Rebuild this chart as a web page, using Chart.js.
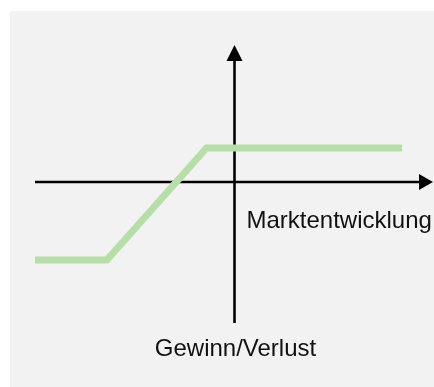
<!DOCTYPE html>
<html>
<head>
<meta charset="utf-8">
<script src="https://cdn.jsdelivr.net/npm/chart.js@4.4.1/dist/chart.umd.min.js"></script>
<style>
  html, body { margin: 0; padding: 0; background: #ffffff; }
  #wrap { position: relative; width: 434px; height: 387px; overflow: hidden; }
  #panel { position: absolute; left: 10px; top: 11px; width: 424px; height: 376px; background: #f2f2f2; }
  #payoff { position: absolute; left: 0; top: 0; }
</style>
</head>
<body>
<div id="wrap">
  <div id="panel"></div>
  <canvas id="payoff" width="434" height="387"></canvas>
</div>
<script>
// Marktentwicklung (x) und Gewinn/Verlust (y) des Auszahlungsprofils
const marktentwicklung = [-10, -6.4, -1.4, 8.4];
const gewinnVerlust = [-3.9, -3.9, 1.7, 1.7];
const xLabel = 'Marktentwicklung';
const yLabel = 'Gewinn/Verlust';

const axisPlugin = {
  id: 'axisPlugin',
  beforeDatasetsDraw(chart) {
    const ctx = chart.ctx;
    const area = chart.chartArea;
    const x0 = chart.scales.x.getPixelForValue(0);
    const y0 = chart.scales.y.getPixelForValue(0);
    ctx.save();
    ctx.strokeStyle = '#000000';
    ctx.fillStyle = '#000000';
    ctx.lineWidth = 2.6;

    // horizontale Achse
    ctx.beginPath();
    ctx.moveTo(area.left, y0);
    ctx.lineTo(area.right - 14, y0);
    ctx.stroke();
    ctx.beginPath();
    ctx.moveTo(area.right - 1, y0);
    ctx.lineTo(area.right - 15, y0 - 8);
    ctx.lineTo(area.right - 15, y0 + 8);
    ctx.closePath();
    ctx.fill();

    // vertikale Achse
    ctx.beginPath();
    ctx.moveTo(x0, area.bottom);
    ctx.lineTo(x0, area.top + 14);
    ctx.stroke();
    ctx.beginPath();
    ctx.moveTo(x0, area.top);
    ctx.lineTo(x0 - 8, area.top + 16);
    ctx.lineTo(x0 + 8, area.top + 16);
    ctx.closePath();
    ctx.fill();

    // Beschriftungen
    ctx.fillStyle = '#111111';
    ctx.font = '24px "Liberation Sans", Arial, sans-serif';
    ctx.textBaseline = 'alphabetic';
    ctx.textAlign = 'left';
    ctx.fillText(xLabel, x0 + 12, y0 + 46);
    ctx.textAlign = 'center';
    ctx.fillText(yLabel, x0 + 1, area.bottom + 33);
    ctx.restore();
  }
};

new Chart(document.getElementById('payoff'), {
  type: 'line',
  data: {
    datasets: [
      {
        label: 'Profil',
        data: marktentwicklung.map((x, i) => ({ x: x, y: gewinnVerlust[i] })),
        borderColor: '#b6dfa7',
        borderWidth: 7,
        borderJoinStyle: 'miter',
        borderCapStyle: 'butt',
        tension: 0,
        fill: false,
        pointRadius: 0,
        pointHoverRadius: 0
      }
    ]
  },
  options: {
    responsive: false,
    animation: false,
    events: [],
    layout: {
      padding: { left: 35, right: 0, top: 45, bottom: 64 }
    },
    plugins: {
      legend: { display: false },
      tooltip: { enabled: false }
    },
    scales: {
      x: { type: 'linear', display: false, min: -10, max: 10 },
      y: { type: 'linear', display: false, min: -7.05, max: 6.85 }
    }
  },
  plugins: [axisPlugin]
});
</script>
</body>
</html>
